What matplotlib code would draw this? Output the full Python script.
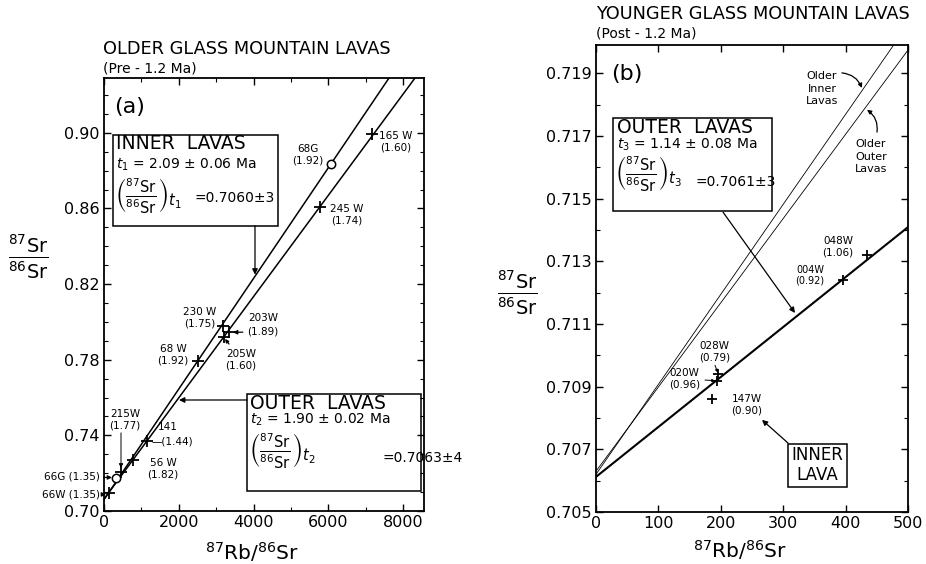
import matplotlib
matplotlib.use("Agg")
import matplotlib.pyplot as plt
from matplotlib.patches import Rectangle
from matplotlib.ticker import FixedLocator, MultipleLocator, FormatStrFormatter

# ---- panel (a): older Glass Mountain lavas (pre-1.2 Ma) ----
A_RB = [6072, 7161, 5778, 3175, 3336, 3210, 2515, 1142, 784, 446, 321, 125]
A_SR = [0.8834, 0.8992, 0.8606, 0.7980, 0.7945, 0.7919, 0.7795, 0.7370,
        0.7270, 0.7205, 0.7173, 0.7097]
A_GLASS = [True, False, False, False, False, False, False, False, False,
           False, True, False]
# isochron end points (Rb/Sr, Sr/Sr)
A_INNER_X, A_INNER_Y = [0, 7624], [0.7060, 0.929]
A_OUTER_X, A_OUTER_Y = [0, 8319], [0.7063, 0.929]
A_XTICKS = [0, 2000, 4000, 6000, 8000]
A_YTICKS = [0.70, 0.74, 0.78, 0.82, 0.86, 0.90]

# ---- panel (b): younger Glass Mountain lavas (post-1.2 Ma) ----
B_RB = [434.8, 396.4, 196.0, 194.4, 186.4]
B_SR = [0.71320, 0.71240, 0.70940, 0.70919, 0.70860]
B_OUTER_X, B_OUTER_Y = [0, 500], [0.70612, 0.71409]
B_OLD_INNER_X, B_OLD_INNER_Y = [0, 478], [0.70620, 0.71993]
B_OLD_OUTER_X, B_OLD_OUTER_Y = [0, 500], [0.70630, 0.71974]
B_XTICKS = [0, 100, 200, 300, 400, 500]
B_YTICKS = [0.705, 0.707, 0.709, 0.711, 0.713, 0.715, 0.717, 0.719]

plt.rcParams.update({
    "font.family": "DejaVu Sans", "mathtext.fontset": "dejavusans",
    "xtick.direction": "in", "ytick.direction": "in",
    "xtick.top": True, "ytick.right": True,
    "xtick.major.size": 5, "ytick.major.size": 5,
    "xtick.minor.size": 3, "ytick.minor.size": 3,
    "xtick.major.width": 1, "ytick.major.width": 1,
    "xtick.minor.width": 0.8, "ytick.minor.width": 0.8,
    "axes.linewidth": 1.3,
})

ARW = dict(arrowstyle="-|>", color="k", lw=0.9, mutation_scale=8,
           shrinkA=0, shrinkB=0)
SMALL = 7.5
SRSR = r"$\frac{{}^{87}\mathrm{Sr}}{{}^{86}\mathrm{Sr}}$"
RBSR = r"${}^{87}\mathrm{Rb}/{}^{86}\mathrm{Sr}$"


def frac(sub):
    return (r"$\left(\frac{{}^{87}\mathrm{Sr}}{{}^{86}\mathrm{Sr}}\right)_{%s}$"
            % sub)


fig = plt.figure(figsize=(9.26, 5.64), dpi=100)

# ================= (a) =================
ax = fig.add_axes([0.1123, 0.0940, 0.3456, 0.7677])
ax.plot(A_INNER_X, A_INNER_Y, color="k", lw=1.1)
ax.plot(A_OUTER_X, A_OUTER_Y, color="k", lw=1.1)
for x, y, g in zip(A_RB, A_SR, A_GLASS):
    if g:
        ax.plot(x, y, "o", ms=6, mfc="white", mec="k", mew=1.1, zorder=4)
    else:
        ax.plot(x, y, "+", ms=8, color="k", mew=1.3, zorder=4)
ax.set_xlim(0, 8560)
ax.set_ylim(0.70, 0.929)
ax.xaxis.set_major_locator(FixedLocator(A_XTICKS))
ax.xaxis.set_minor_locator(MultipleLocator(1000))
ax.yaxis.set_major_locator(FixedLocator(A_YTICKS))
ax.yaxis.set_minor_locator(MultipleLocator(0.01))
ax.yaxis.set_major_formatter(FormatStrFormatter("%.2f"))
ax.tick_params(which="both", top=True, right=True, labelsize=11.5, pad=3)

ax.text(695, 0.9137, "(a)", fontsize=16, ha="center", va="center")

ax.add_patch(Rectangle((241, 0.8507), 4414, 0.0482, fill=False, lw=1.1))
ax.text(330, 0.8941, "INNER  LAVAS", fontsize=13.5, va="center")
ax.text(330, 0.8830, r"$t_1$ = 2.09 ± 0.06 Ma", fontsize=10, va="center")
ax.text(300, 0.8668, frac("t_1"), fontsize=15, va="center")
ax.text(2434, 0.8655, "=0.7060±3", fontsize=10, va="center")
ax.annotate("", xy=(4039, 0.8250), xytext=(4039, 0.8507), arrowprops=ARW)

ax.add_patch(Rectangle((3825, 0.7106), 4655, 0.0513, fill=False, lw=1.1))
ax.text(3906, 0.7571, "OUTER  LAVAS", fontsize=13.5, va="center")
ax.text(3906, 0.7481, r"$t_2$ = 1.90 ± 0.02 Ma", fontsize=10, va="center")
ax.text(3880, 0.7320, frac("t_2"), fontsize=15, va="center")
ax.text(7437, 0.7280, "=0.7063±4", fontsize=10, va="center")
ax.annotate("", xy=(2006, 0.7587), xytext=(3825, 0.7587), arrowprops=ARW)

kw = dict(fontsize=SMALL, ha="center", va="center", linespacing=1.2)
ax.text(5457, 0.8883, "68G\n(1.92)", **kw)
ax.text(7811, 0.8952, "165 W\n(1.60)", **kw)
ax.text(6500, 0.8566, "245 W\n(1.74)", **kw)
ax.text(2568, 0.8021, "230 W\n(1.75)", **kw)
ax.text(4253, 0.8021, "203W", **kw)
ax.annotate("(1.89)", xy=(3451, 0.7945), xytext=(3825, 0.7947),
            fontsize=SMALL, ha="left", va="center",
            arrowprops=dict(ARW, mutation_scale=6, shrinkA=1))
ax.text(3665, 0.7799, "205W\n(1.60)", **kw)
ax.annotate("", xy=(3237, 0.7910), xytext=(3344, 0.7883),
            arrowprops=dict(ARW, mutation_scale=5))
ax.text(1846, 0.7825, "68 W\n(1.92)", **kw)
ax.text(1712, 0.7444, "141", **kw)
ax.text(1284, 0.7370, "—(1.44)", fontsize=SMALL, ha="left", va="center")
ax.text(1578, 0.7222, "56 W\n(1.82)", **kw)
ax.text(562, 0.7481, "215W\n(1.77)", **kw)
ax.annotate("", xy=(455, 0.7227), xytext=(455, 0.7413),
            arrowprops=dict(ARW, mutation_scale=6, lw=0.7))
ax.annotate("66G (1.35)", xy=(214, 0.7177), xytext=(-120, 0.7180),
            fontsize=SMALL, ha="right", va="center", annotation_clip=False,
            arrowprops=dict(ARW, mutation_scale=6, shrinkA=1))
ax.annotate("66W (1.35)", xy=(54, 0.7088), xytext=(-120, 0.7085),
            fontsize=SMALL, ha="right", va="center", annotation_clip=False,
            arrowprops=dict(ARW, mutation_scale=6, shrinkA=1))

fig.text(0.1112, 0.913, "OLDER GLASS MOUNTAIN LAVAS", fontsize=12.8, va="center")
fig.text(0.1112, 0.879, "(Pre - 1.2 Ma)", fontsize=10, va="center")
fig.text(0.030, 0.546, SRSR, fontsize=20, ha="center", va="center")
fig.text(0.272, 0.022, RBSR, fontsize=14.5, ha="center", va="center")

# ================= (b) =================
bx = fig.add_axes([0.6436, 0.0922, 0.3370, 0.8280])
bx.plot(B_OLD_INNER_X, B_OLD_INNER_Y, color="k", lw=0.6)
bx.plot(B_OLD_OUTER_X, B_OLD_OUTER_Y, color="k", lw=0.6)
bx.plot(B_OUTER_X, B_OUTER_Y, color="k", lw=1.5)
bx.plot(B_RB, B_SR, "+", ms=7, color="k", mew=1.3, zorder=4)
bx.set_xlim(0, 500)
bx.set_ylim(0.705, 0.7199)
bx.xaxis.set_major_locator(FixedLocator(B_XTICKS))
bx.yaxis.set_major_locator(FixedLocator(B_YTICKS))
bx.yaxis.set_minor_locator(MultipleLocator(0.001))
bx.yaxis.set_major_formatter(FormatStrFormatter("%.3f"))
bx.tick_params(which="both", top=True, right=True, labelsize=11.5, pad=3)

bx.text(49.7, 0.71897, "(b)", fontsize=16, ha="center", va="center")

bx.add_patch(Rectangle((27.2, 0.71460), 254.9, 0.00297, fill=False, lw=1.1))
bx.text(33.7, 0.71728, "OUTER  LAVAS", fontsize=13.5, va="center")
bx.text(33.7, 0.71671, r"$t_3$ = 1.14 ± 0.08 Ma", fontsize=10, va="center")
bx.text(30, 0.71580, frac("t_3"), fontsize=15, va="center")
bx.text(160, 0.71553, "=0.7061±3", fontsize=10, va="center")
bx.annotate("", xy=(318.9, 0.71135), xytext=(203.5, 0.71457), arrowprops=ARW)

bx.text(362, 0.71850, "Older\nInner\nLavas", fontsize=8, ha="center",
        va="center", linespacing=1.3)
bx.annotate("", xy=(426, 0.71853), xytext=(394, 0.71901),
            arrowprops=dict(ARW, mutation_scale=6,
                            connectionstyle="arc3,rad=-0.3"))
bx.text(440.7, 0.71633, "Older\nOuter\nLavas", fontsize=8, ha="center",
        va="center", linespacing=1.3)
bx.annotate("", xy=(434.3, 0.71783), xytext=(450.3, 0.71712),
            arrowprops=dict(ARW, mutation_scale=6,
                            connectionstyle="arc3,rad=0.3"))

bx.text(387.8, 0.71346, "048W\n(1.06)", **kw)
bx.text(343, 0.71256, "004W\n(0.92)", fontsize=7, ha="center", va="center",
        linespacing=1.1)
bx.text(190, 0.71010, "028W\n(0.79)", **kw)
bx.annotate("", xy=(195, 0.70945), xytext=(190.7, 0.70968),
            arrowprops=dict(ARW, mutation_scale=4, lw=0.7))
bx.text(141.8, 0.70924, "020W\n(0.96)", **kw)
bx.annotate("", xy=(190.7, 0.70919), xytext=(174.7, 0.70921),
            arrowprops=dict(ARW, mutation_scale=4, lw=0.7))
bx.text(242, 0.70841, "147W\n(0.90)", **kw)

bx.add_patch(Rectangle((307.7, 0.70580), 94.5, 0.00137, fill=False, lw=1.1))
bx.text(354, 0.70650, "INNER\nLAVA", fontsize=12, ha="center", va="center",
        linespacing=1.2)
bx.annotate("", xy=(266, 0.70794), xytext=(307.7, 0.70720), arrowprops=ARW)

fig.text(0.6436, 0.975, "YOUNGER GLASS MOUNTAIN LAVAS", fontsize=12.8, va="center")
fig.text(0.6436, 0.941, "(Post - 1.2 Ma)", fontsize=10, va="center")
fig.text(0.559, 0.482, SRSR, fontsize=20, ha="center", va="center")
fig.text(0.799, 0.025, RBSR, fontsize=14.5, ha="center", va="center")

fig.savefig("out.png", dpi=100)
